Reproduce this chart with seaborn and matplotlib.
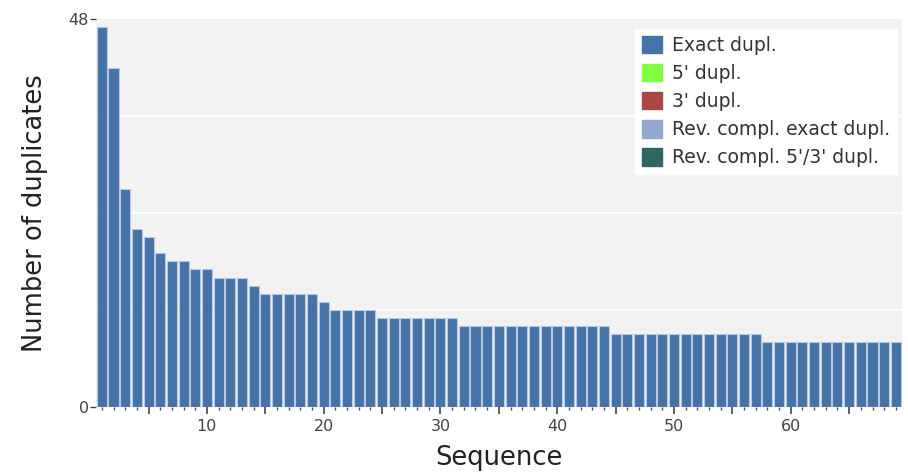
import matplotlib
matplotlib.use("Agg")
import matplotlib.pyplot as plt
import matplotlib.ticker as mticker
from matplotlib.patches import Patch
import seaborn as sns
import pandas as pd

# ---- data ----
sequence = list(range(1, 70))
exact_dupl = ([47, 42, 27, 22, 21, 19, 18, 18, 17, 17, 16, 16, 16, 15]
              + [14] * 5 + [13] + [12] * 4 + [11] * 7 + [10] * 13 + [9] * 13 + [8] * 12)
series_names = ["Exact dupl.", "5' dupl.", "3' dupl.",
                "Rev. compl. exact dupl.", "Rev. compl. 5'/3' dupl."]
series_colors = ["#4572A7", "#80FF40", "#AA4643", "#93A9CF", "#2F6661"]
y_ticks = [0, 48]
y_grid = [12, 24, 36]

df = pd.DataFrame({"Sequence": sequence, "Count": exact_dupl})

sns.set_style("white", {"axes.facecolor": "#F2F2F2"})
plt.rcParams["font.family"] = ["DejaVu Sans"]

fig = plt.figure(figsize=(9.08, 4.72), dpi=100)
ax = fig.add_axes([96 / 908, (472 - 406.7) / 472, (901.7 - 96) / 908, 387.4 / 472])
ax.set_facecolor("#F2F2F2")
ax.set_axisbelow(True)

sns.barplot(data=df, x="Sequence", y="Count", native_scale=True, ax=ax,
            color=series_colors[0], saturation=1, width=0.86,
            edgecolor="#B7C8E0", linewidth=0.8, zorder=3)

ax.set_xlim(0.5, 69.5)
ax.set_ylim(0, 48)

for s in ax.spines.values():
    s.set_visible(False)

# y axis
ax.set_yticks(y_ticks)
ax.set_yticks(y_grid, minor=True)
ax.yaxis.grid(True, which="minor", color="white", linewidth=1.3)
ax.yaxis.grid(False, which="major")
ax.tick_params(axis="y", which="major", left=True, length=4, width=1, color="#444444",
               labelsize=11.5, labelcolor="#444444", pad=1)
ax.tick_params(axis="y", which="minor", left=False, length=0)

# x axis
ax.xaxis.set_major_locator(mticker.MultipleLocator(5))
ax.xaxis.set_minor_locator(mticker.MultipleLocator(1))
ax.xaxis.set_major_formatter(mticker.FuncFormatter(
    lambda v, p: f"{int(round(v))}" if int(round(v)) % 10 == 0 and v > 0 else ""))
ax.tick_params(axis="x", which="major", bottom=True, length=5, width=1.2, color="#444444",
               labelsize=11.5, labelcolor="#444444", pad=4)
ax.tick_params(axis="x", which="minor", bottom=True, length=2.5, width=1, color="#555555")
ax.xaxis.grid(False)

ax.set_xlabel("Sequence", fontsize=18.5, color="#222222", labelpad=8)
ax.set_ylabel("Number of duplicates", fontsize=18.5, color="#222222", labelpad=15)

handles = [Patch(facecolor=c, edgecolor=c, label=n) for n, c in zip(series_names, series_colors)]
leg = ax.legend(handles=handles, loc="upper right",
                bbox_to_anchor=(897 / 908, 1 - 29 / 472), bbox_transform=fig.transFigure,
                frameon=True, fancybox=False, facecolor="white", edgecolor="white",
                framealpha=1, fontsize=13.5, handlelength=1.08, handleheight=1.08,
                handletextpad=0.55, labelspacing=0.47, borderpad=0.35,
                borderaxespad=0)
for t in leg.get_texts():
    t.set_color("#333333")
leg.set_zorder(5)

fig.savefig("out.png", dpi=100)
